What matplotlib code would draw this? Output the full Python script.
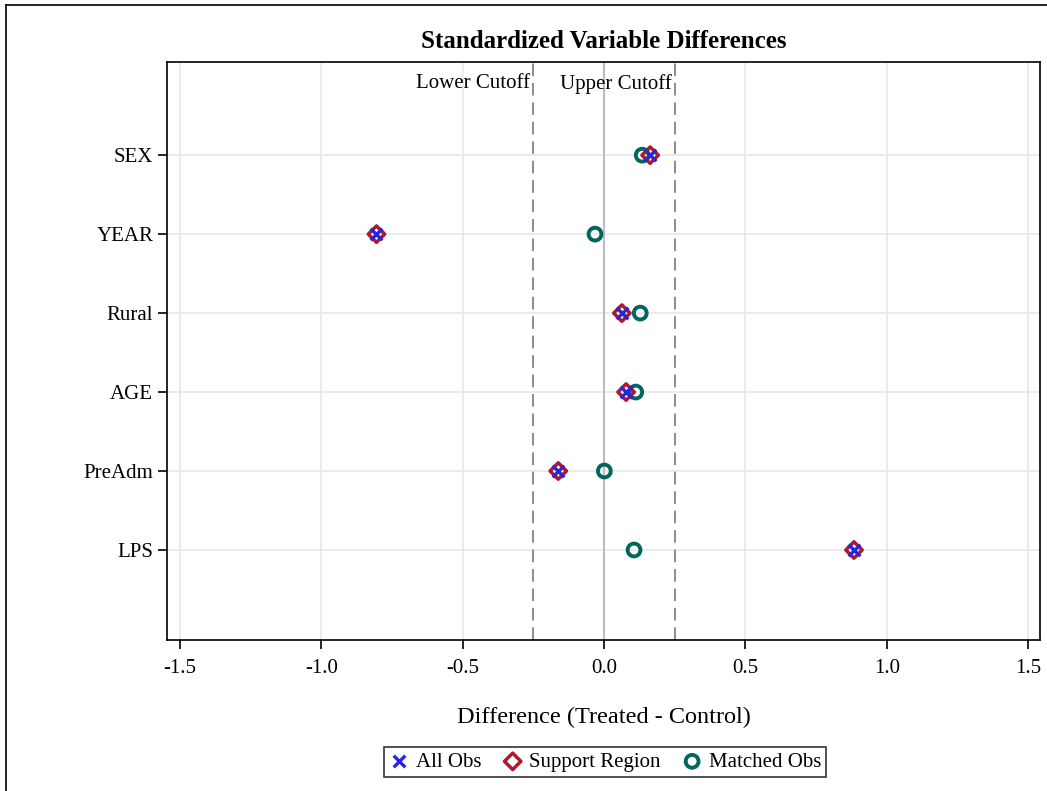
import matplotlib.pyplot as plt
from matplotlib.lines import Line2D

# Data
variables = ['SEX', 'YEAR', 'Rural', 'AGE', 'PreAdm', 'LPS']
all_obs = [0.163, -0.805, 0.063, 0.078, -0.162, 0.884]
support_region = [0.163, -0.805, 0.063, 0.078, -0.162, 0.884]
matched_obs = [0.135, -0.032, 0.128, 0.112, 0.001, 0.106]
cutoffs = [-0.25, 0.25]
xticks = [-1.5, -1.0, -0.5, 0.0, 0.5, 1.0, 1.5]

plt.rcParams['font.family'] = ['Liberation Serif', 'DejaVu Serif']

fig = plt.figure(figsize=(10.47, 7.91), dpi=100)
ax = fig.add_axes([167 / 1047, 1 - 640 / 791, (1040 - 167) / 1047, (640 - 62) / 791])

ypos = list(range(1, len(variables) + 1))

# reference lines
ax.axvline(0, color='#BDBDBD', lw=1.5, zorder=1)
for c in cutoffs:
    ax.axvline(c, color='#8C8C8C', lw=1.4, ls=(0, (6.5, 3.5)), zorder=1)

ax.scatter(matched_obs, ypos, marker='o', s=85, facecolors='none',
           edgecolors='#01665E', linewidths=2.8, label='Matched Obs', zorder=3)
ax.scatter(support_region, ypos, marker='D', s=70, facecolors='none',
           edgecolors='#B2182B', linewidths=2.5, label='Support Region', zorder=4)
ax.scatter(all_obs, ypos, marker='x', s=70, color='#2A25D9',
           linewidths=2.4, label='All Obs', zorder=5)

ax.set_xlim(-1.546, 1.542)
ax.set_ylim(len(variables) + 1.14, -0.18)
ax.set_xticks(xticks)
ax.set_xticklabels([f'{t:.1f}' for t in xticks], fontsize=15)
ax.set_yticks(ypos)
ax.set_yticklabels(variables, fontsize=15)
ax.grid(True, color='#E8E8E8', lw=1.2, zorder=0)
ax.set_axisbelow(True)
ax.tick_params(length=6.5, width=1.2, color='black')
ax.tick_params(axis='x', pad=7)
ax.tick_params(axis='y', pad=3.5)
for s in ax.spines.values():
    s.set_linewidth(1.2)

ax.set_xlabel('Difference (Treated - Control)', fontsize=17.5, labelpad=21)
ax.set_title('Standardized Variable Differences', fontsize=18, fontweight='bold', pad=10)

ax.text(cutoffs[0] - 0.01, -0.03, 'Lower Cutoff', ha='right', va='top', fontsize=15)
ax.text(cutoffs[1] - 0.01, -0.03, 'Upper Cutoff', ha='right', va='top', fontsize=15)

handles, labels = ax.get_legend_handles_labels()
order = [2, 1, 0]
leg = fig.legend([handles[i] for i in order], [labels[i] for i in order],
                 loc='center', bbox_to_anchor=(605 / 1047, 1 - 762 / 791), ncol=3,
                 fontsize=15, frameon=True, fancybox=False, edgecolor='black',
                 handletextpad=0.3, columnspacing=1.0, borderpad=0.25,
                 handlelength=1.0, markerscale=1.0)
leg.get_frame().set_linewidth(1.2)

# outer border: only top and left edges are visible in the reference
fig.add_artist(Line2D([6 / 1047, 6 / 1047], [0, 1 - 5 / 791], transform=fig.transFigure,
                      color='black', lw=1.2))
fig.add_artist(Line2D([6 / 1047, 1], [1 - 5 / 791, 1 - 5 / 791], transform=fig.transFigure,
                      color='black', lw=1.2))

fig.savefig('out.png', dpi=100)
